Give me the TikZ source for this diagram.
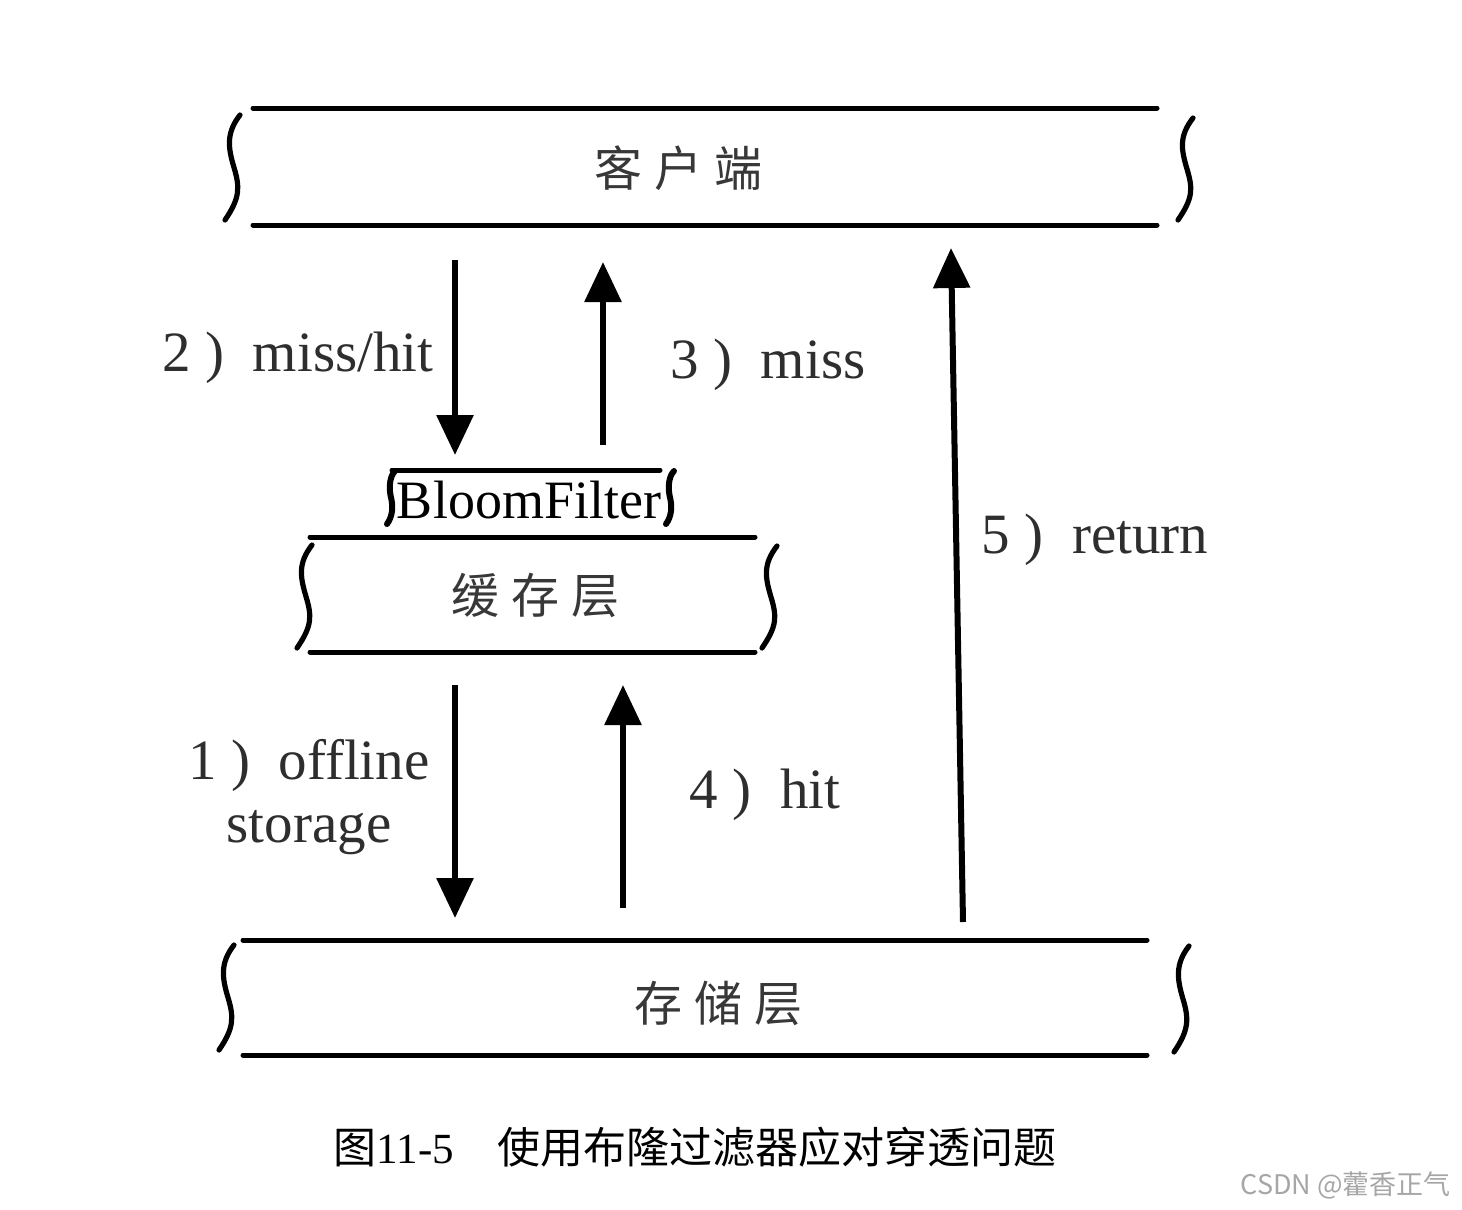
\documentclass[tikz,border=0pt]{standalone}
\usepackage{fontspec}
\setmainfont{Liberation Serif}
\newfontfamily\cjk{Noto Sans CJK SC}
\usetikzlibrary{arrows.meta}

% side curl of a layer box: x, top y, bottom y
\newcommand\sidecurl[3]{%
  \draw[curl line] (#1+6,#2) .. controls (#1-8,#2+18) and (#1-6,{(#2+#3)/2-20}) .. (#1,{(#2+#3)/2})
    .. controls (#1+6,{(#2+#3)/2+20}) and (#1+6,#3-22) .. (#1-9,#3);}
% same, smaller, for the filter
\newcommand\smallcurl[3]{%
  \draw[curl line, line width=3pt] (#1+4,#2) .. controls (#1-2,#2+6) and (#1-2,{(#2+#3)/2-8}) .. (#1,{(#2+#3)/2})
    .. controls (#1+2,{(#2+#3)/2+8}) and (#1+2,#3-8) .. (#1-4,#3);}

\begin{document}
\begin{tikzpicture}
   [x=0.5pt, y=-0.5pt,
    edge line/.style={line width=2.5pt, line cap=round},
    curl line/.style={line width=2.6pt, line cap=round},
    flow/.style={line width=3pt, -{Triangle[length=20pt,width=18pt]}},
    layer text/.style={font=\cjk\fontsize{24}{28}\selectfont, text=black!78},
    label text/.style={font=\fontsize{28.5}{31.5}\selectfont, text=black!82, align=center}]
   \useasboundingbox (0,0) rectangle (1462,1210);

   % client
   \draw[edge line] (253,108) -- (1157,108);
   \draw[edge line] (253,225) -- (1157,225);
   \sidecurl{234}{115}{220}
   \sidecurl{1187}{118}{220}
   \node[layer text] (client) at (678,168) {客\hspace{6pt}户\hspace{6pt}端};

   % bloom filter
   \draw[edge line] (392,470) -- (660,470);
   \smallcurl{391}{471}{524}
   \smallcurl{670}{471}{524}
   \node[font=\fontsize{27}{30}\selectfont] (bloom) at (529,500) {BloomFilter};

   % cache layer
   \draw[edge line] (310,537) -- (755,537);
   \draw[edge line] (310,652) -- (755,652);
   \sidecurl{306}{545}{648}
   \sidecurl{771}{546}{648}
   \node[layer text] (cache) at (535,595) {缓\hspace{6pt}存\hspace{6pt}层};

   % storage layer
   \draw[edge line] (243,940) -- (1147,940);
   \draw[edge line] (243,1055) -- (1147,1055);
   \sidecurl{228}{945}{1050}
   \sidecurl{1183}{946}{1052}
   \node[layer text] (store) at (718,1003) {存\hspace{6pt}储\hspace{6pt}层};

   % arrow ends
   \coordinate (q2a) at (455,260);
   \coordinate (q2b) at (455,455);
   \coordinate (q3a) at (603,445);
   \coordinate (q3b) at (603,262);
   \coordinate (q1a) at (455,685);
   \coordinate (q1b) at (455,918);
   \coordinate (q4a) at (623,908);
   \coordinate (q4b) at (623,685);
   \coordinate (q5a) at (963,922);
   \coordinate (q5b) at (951,248);

   \draw[flow] (q2a) -- (q2b);
   \draw[flow] (q3a) -- (q3b);
   \draw[flow] (q1a) -- (q1b);
   \draw[flow] (q4a) -- (q4b);
   \draw[flow] (q5a) -- (q5b);

   \node[label text] (l2) at (298,358) {2 )\ \ miss/hit};
   \node[label text] (l3) at (768,365) {3 )\ \ miss};
   \node[label text] (l1) at (309,797) {1 )\ \ offline\\storage};
   \node[label text] (l4) at (765,795) {4 )\ \ hit};
   \node[label text] (l5) at (1095,540) {5 )\ \ return};

   % caption
   \node[font=\fontsize{21.5}{25}\selectfont] (cap) at (695,1147)
      {{\cjk 图}11-5\quad{\cjk 使用布隆过滤器应对穿透问题}};
   \node[anchor=east, font=\cjk\fontsize{13.5}{16}\selectfont, text=black!35] (mark) at (1458,1185)
      {CSDN @藿香正气};
\end{tikzpicture}
\end{document}
